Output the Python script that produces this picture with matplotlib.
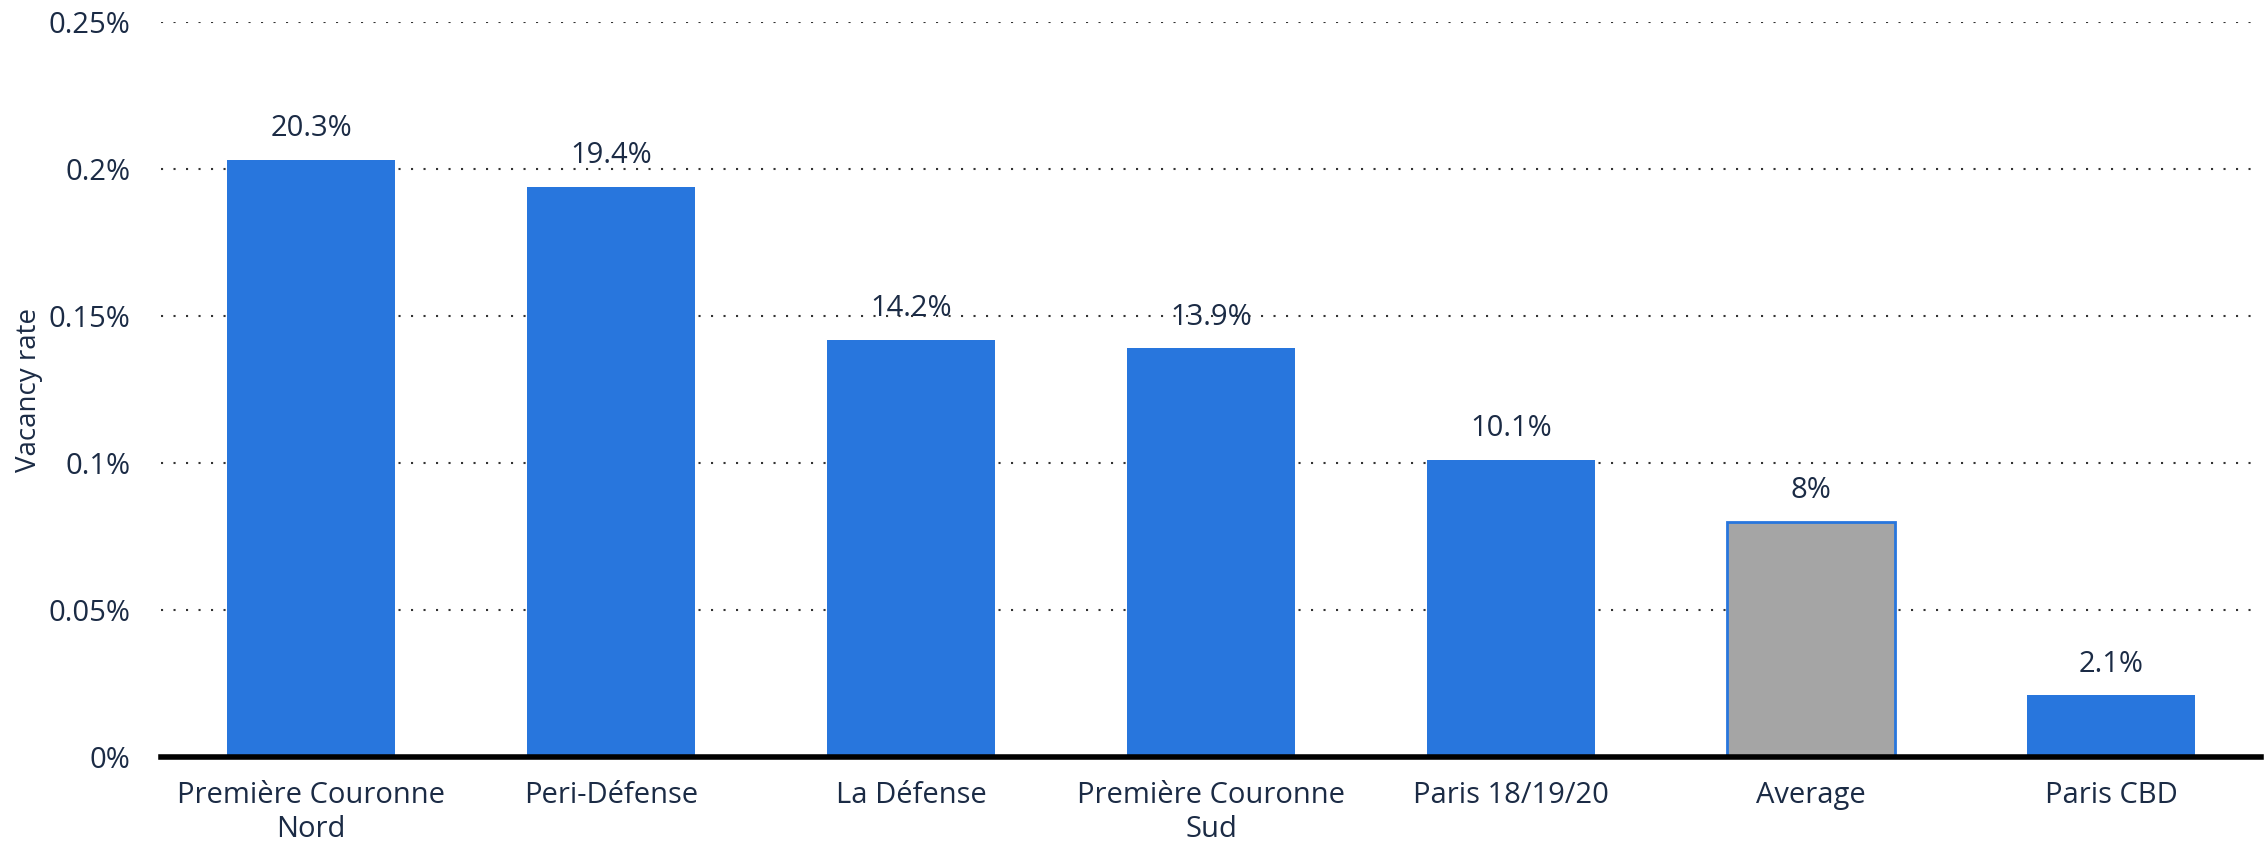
import matplotlib.pyplot as plt
import numpy as np

categories = ['Première Couronne\nNord', 'Peri-Défense', 'La Défense', 'Première Couronne\nSud',
              'Paris 18/19/20', 'Average', 'Paris CBD']
values = [0.203, 0.194, 0.142, 0.139, 0.101, 0.08, 0.021]
yticks = [0, 0.05, 0.1, 0.15, 0.2, 0.25]

text_col = '#1b2b45'
blue = '#2876dd'
grey = '#a5a5a5'

plt.rcParams['font.family'] = ['Open Sans', 'DejaVu Sans']

fig = plt.figure(figsize=(22.68, 8.44), dpi=100)
ax = fig.add_axes([0.071, 0.103, 0.926, 0.871])

x = np.arange(len(categories))
colors = [grey if c == 'Average' else blue for c in categories]
edges = [blue if c == 'Average' else 'none' for c in categories]
bars = ax.bar(x, values, width=0.56, color=colors, edgecolor=edges, linewidth=2, zorder=3)

for xi, v in zip(x, values):
    ax.annotate(f'{v*100:g}%', (xi, v), xytext=(0, 12), textcoords='offset points',
                ha='center', va='bottom', fontsize=21, color=text_col)

ax.set_xlim(-0.5, len(categories) - 0.5)
ax.set_ylim(0, 0.25)
ax.set_yticks(yticks)
ax.set_yticklabels([f'{t:g}%' for t in yticks])
ax.set_xticks(x)
ax.set_xticklabels(categories, linespacing=1.22)
ax.tick_params(axis='both', length=0, labelsize=21, colors=text_col)
ax.tick_params(axis='y', pad=22)
ax.tick_params(axis='x', pad=17)

ax.grid(axis='y', linestyle=(0, (1, 5)), color='#333333', linewidth=1.5, zorder=0)
for s in ['top', 'right', 'left']:
    ax.spines[s].set_visible(False)
ax.spines['bottom'].set_linewidth(4)
ax.spines['bottom'].set_color('black')
ax.spines['bottom'].set_zorder(4)

ax.set_ylabel('Vacancy rate', fontsize=20, color=text_col, labelpad=4)

fig.savefig('out.png', dpi=100)
